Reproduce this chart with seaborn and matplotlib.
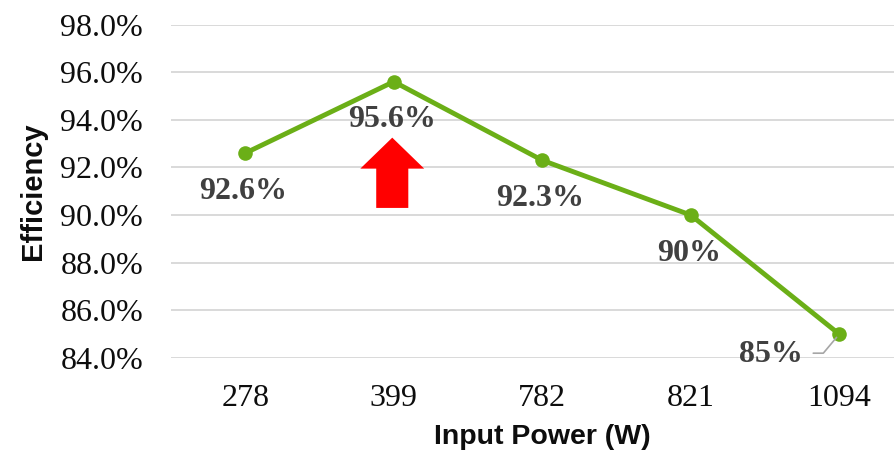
import matplotlib
matplotlib.use("Agg")
import matplotlib.pyplot as plt
import seaborn as sns
import pandas as pd

# Efficiency vs. input power
power_labels = ["278", "399", "782", "821", "1094"]
efficiency = [92.6, 95.6, 92.3, 90.0, 85.0]
value_labels = ["92.6%", "95.6%", "92.3%", "90%", "85%"]
y_ticks = [84, 86, 88, 90, 92, 94, 96, 98]

# Highlight arrow under the peak point (category index, bottom, top)
arrow_x = 1
arrow_bottom = 90.3
arrow_top = 93.25

sns.set_theme(style="white")
plt.rcParams["font.family"] = ["Liberation Serif", "DejaVu Serif"]

df = pd.DataFrame({"power": power_labels, "eff": efficiency})

fig = plt.figure(figsize=(8.95, 4.58), dpi=100)
ax = fig.add_axes([171 / 895, 1 - 358 / 458, 742.5 / 895, 333.5 / 458])

green = "#6BAF17"
sns.lineplot(data=df, x="power", y="eff", sort=False, ax=ax, color=green,
             linewidth=3.5, marker="o", markersize=10.5, markeredgewidth=0,
             zorder=3)

ax.set_xlim(-0.5, 4.5)
ax.set_ylim(84, 98)
ax.set_yticks(y_ticks)
ax.set_yticklabels([f"{v:.1f}%" for v in y_ticks])
ax.yaxis.grid(True, color="#d9d9d9", linewidth=1.4)
ax.xaxis.grid(False)
for s in ax.spines.values():
    s.set_visible(False)
ax.tick_params(axis="y", length=0, pad=20, labelsize=23, labelcolor="#0d0d0d")
ax.tick_params(axis="x", length=0, pad=19, labelsize=23, labelcolor="#0d0d0d")

ax.set_xlabel("Input Power (W)", family=["Liberation Sans", "DejaVu Sans"],
              fontsize=20.5, fontweight="bold", color="#0d0d0d", labelpad=8)
ax.set_ylabel("Efficiency", family=["Liberation Sans", "DejaVu Sans"],
              fontsize=21, fontweight="bold", color="#0d0d0d", labelpad=10)

# Value labels beneath each point
for i, (v, lab) in enumerate(zip(efficiency, value_labels)):
    if i == len(efficiency) - 1:
        ax.annotate(lab, xy=(i, v), xytext=(-68, -20), textcoords="offset pixels",
                    ha="center", va="center", fontsize=23, fontweight="bold",
                    color="#404040", zorder=4)
        # leader line to the last point
        ax.annotate("", xy=(i, v), xytext=(-26, -19), textcoords="offset pixels",
                    arrowprops=dict(arrowstyle="-", color="#a6a6a6", lw=1.2,
                                    connectionstyle="angle,angleA=0,angleB=50,rad=0",
                                    shrinkA=0, shrinkB=3))
    else:
        ax.annotate(lab, xy=(i, v), xytext=(-2, -38), textcoords="offset pixels",
                    ha="center", va="center", fontsize=23, fontweight="bold",
                    color="#404040", zorder=4)

ax.arrow(arrow_x - 0.01, arrow_bottom, 0, arrow_top - arrow_bottom,
         width=0.216, head_width=0.43, head_length=1.3,
         length_includes_head=True, color="#FF0000", linewidth=0, zorder=2)

fig.savefig("out.png", dpi=100)
